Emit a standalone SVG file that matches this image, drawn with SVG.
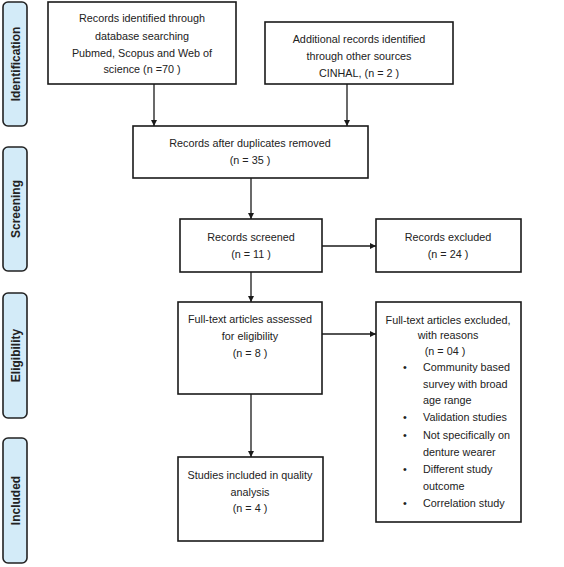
<svg xmlns="http://www.w3.org/2000/svg" width="564" height="567" viewBox="0 0 564 567">
<defs>
<style>
.box{fill:#fff;stroke:#1a1a1a;stroke-width:1.6}
.lab{fill:#d3ebf8;stroke:#222;stroke-width:1.6}
.t{font-family:"Liberation Sans",Arial,sans-serif;font-size:10.8px;fill:#222;text-anchor:middle}
.tl{font-family:"Liberation Sans",Arial,sans-serif;font-size:10.8px;fill:#222}
.lt{font-family:"Liberation Sans",Arial,sans-serif;font-size:12px;font-weight:bold;fill:#222;text-anchor:middle}
.c{stroke:#1a1a1a;stroke-width:1.3;fill:none}
</style>
<marker id="ah" viewBox="0 0 10 10" refX="10" refY="5" markerWidth="6" markerHeight="6" markerUnits="userSpaceOnUse" orient="auto">
<path d="M0,0 L10,5 L0,10 z" fill="#1a1a1a"/>
</marker>
</defs>
<rect width="564" height="567" fill="#fff"/>

<g id="label-identification">
<rect class="lab" x="3" y="2" width="24" height="124" rx="5"/>
<text class="lt" transform="translate(19.5,64) rotate(-90)">Identification</text>
</g>
<g id="label-screening">
<rect class="lab" x="3" y="147" width="24" height="124" rx="5"/>
<text class="lt" transform="translate(19.5,209) rotate(-90)">Screening</text>
</g>
<g id="label-eligibility">
<rect class="lab" x="3" y="293" width="24" height="125" rx="5"/>
<text class="lt" transform="translate(19.5,355.5) rotate(-90)">Eligibility</text>
</g>
<g id="label-included">
<rect class="lab" x="3" y="438" width="24" height="125" rx="5"/>
<text class="lt" transform="translate(19.5,500.5) rotate(-90)">Included</text>
</g>

<g id="connectors">
<line class="c" x1="154" y1="84" x2="154" y2="126" marker-end="url(#ah)"/>
<line class="c" x1="347" y1="84" x2="347" y2="126" marker-end="url(#ah)"/>
<line class="c" x1="251" y1="178" x2="251" y2="219" marker-end="url(#ah)"/>
<line class="c" x1="322" y1="246" x2="376" y2="246" marker-end="url(#ah)"/>
<line class="c" x1="251" y1="272" x2="251" y2="302" marker-end="url(#ah)"/>
<line class="c" x1="322" y1="334" x2="376" y2="334" marker-end="url(#ah)"/>
<line class="c" x1="251" y1="394" x2="251" y2="457" marker-end="url(#ah)"/>
</g>

<g id="node-db">
<rect class="box" x="48" y="2" width="188" height="82"/>
<text class="t" x="142" y="22">Records identified through</text>
<text class="t" x="142" y="39.5">database searching</text>
<text class="t" x="142" y="56.5">Pubmed, Scopus and Web of</text>
<text class="t" x="142" y="73">science (n =70 )</text>
</g>
<g id="node-other">
<rect class="box" x="265" y="22" width="188" height="62"/>
<text class="t" x="359" y="43">Additional records identified</text>
<text class="t" x="359" y="60">through other sources</text>
<text class="t" x="359" y="77">CINHAL, (n = 2 )</text>
</g>
<g id="node-dup">
<rect class="box" x="133" y="126" width="235" height="52"/>
<text class="t" x="250" y="147">Records after duplicates removed</text>
<text class="t" x="250" y="164">(n = 35 )</text>
</g>
<g id="node-screened">
<rect class="box" x="180" y="219" width="142" height="53"/>
<text class="t" x="251" y="241">Records screened</text>
<text class="t" x="251" y="258">(n = 11 )</text>
</g>
<g id="node-excluded">
<rect class="box" x="376" y="219" width="145" height="53"/>
<text class="t" x="448" y="241">Records excluded</text>
<text class="t" x="448" y="258">(n = 24  )</text>
</g>
<g id="node-fulltext">
<rect class="box" x="178" y="302" width="144" height="92"/>
<text class="t" x="250" y="323">Full-text articles assessed</text>
<text class="t" x="250" y="340">for eligibility</text>
<text class="t" x="250" y="357">(n = 8 )</text>
</g>
<g id="node-ftexcluded">
<rect class="box" x="376" y="302" width="145" height="220"/>
<text class="t" x="448" y="324">Full-text articles excluded,</text>
<text class="t" x="448" y="339">with reasons</text>
<text class="t" x="445" y="355">(n = 04  )</text>
<g class="tl">
<text x="403" y="371">•</text><text x="423" y="371">Community based</text>
<text x="423" y="388">survey with broad</text>
<text x="423" y="404">age range</text>
<text x="403" y="421">•</text><text x="423" y="421">Validation studies</text>
<text x="403" y="439">•</text><text x="423" y="439">Not specifically on</text>
<text x="423" y="456">denture wearer</text>
<text x="403" y="473">•</text><text x="423" y="473">Different study</text>
<text x="423" y="490">outcome</text>
<text x="403" y="507">•</text><text x="423" y="507">Correlation study</text>
</g>
</g>
<g id="node-included">
<rect class="box" x="178" y="457" width="145" height="84"/>
<text class="t" x="250" y="479">Studies included in quality</text>
<text class="t" x="250" y="496">analysis</text>
<text class="t" x="250" y="512">(n = 4 )</text>
</g>
</svg>
